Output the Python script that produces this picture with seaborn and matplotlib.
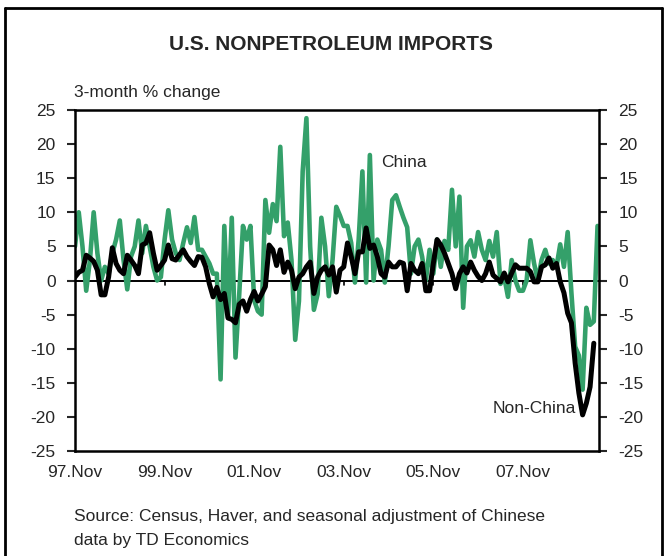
import numpy as np
import pandas as pd
import matplotlib
matplotlib.use("Agg")
import matplotlib.pyplot as plt
from matplotlib.lines import Line2D
import seaborn as sns

# months since 97.Nov
tick_months = [0, 24, 48, 72, 96, 120]
tick_labels = ["97.Nov", "99.Nov", "01.Nov", "03.Nov", "05.Nov", "07.Nov"]
y_ticks = [-25, -20, -15, -10, -5, 0, 5, 10, 15, 20, 25]

china = [
    5, 10, 5, -1.5, 3, 10, 4, 0, 2, 1,
    4, 6, 8.8, 3, -1.3, 3.5, 5, 8.8, 4, 8,
    5, 2, 0, 0.5, 6, 10.3, 6, 4, 3, 5.5,
    7.8, 5.5, 9.3, 4.5, 4.5, 3.5, 2.5, 1, 1, -14.5,
    8, -5.4, 9.2, -11.3, -2, 8, 6, 8, -2.9, -4.5,
    -5, 11.8, 7, 11.2, 8.7, 19.6, 6.5, 8.5, 3, -8.7,
    -3, 16, 23.8, 5, -4.3, -2, 9.2, 5, -2.3, 3,
    10.8, 9.5, 8, 8, 5.5, -0.3, 6, 16, -0.3, 18.4,
    0, 6, 4.5, -0.3, 5, 11.8, 12.5, 10.8, 9.2, 7.8,
    1, 5, 6, 3.5, 0, 4.5, 1, 6, 2, 5.8,
    4.5, 13.3, 5, 12.3, -4, 5, 5.9, 3.5, 7.1, 4.5,
    3, 5.8, 3.5, 7.1, -0.5, 0.5, -2.4, 3, 0, -1.5,
    -1.5, 0, 5.9, 2.5, 0, 3, 4.5, 2.5, 3, 2,
    5.3, 2, 7.1, -1.8, -9.7, -11, -16, -4, -6.5, -6,
    8,
]

non_china = [
    0.5, 1.2, 1.5, 3.7, 3.3, 2.8, 1.5, -2.1, -2.1, 0.5,
    4.8, 2.5, 1.5, 1, 3.7, 3, 2.2, 1, 5.2, 5.5,
    7, 4, 1.5, 2.2, 3, 5.2, 3.2, 3, 3.8, 4.5,
    3.5, 2.8, 2.2, 3.5, 3.4, 2, -0.5, -2.4, -1, -2.8,
    -1.9, -5.5, -5.7, -6.2, -3.5, -3, -4.5, -2.8, -1.6, -3,
    -2, -0.9, 5.2, 4.5, 2.2, 4.5, 1.2, 2.7, 1.5, -1.2,
    0.5, 1, 2, 2.7, -1.9, 0.5, 1.5, 2, 0.8, 2,
    -1.7, 1.5, 2, 5.5, 3.5, 1, 4.2, 4.2, 7.7, 4.7,
    5.2, 3.5, 1, 0.5, 2.7, 2, 2, 2.7, 2.5, -1.5,
    2.5, 1.5, 1, 2.5, -1.5, -1.5, 2.5, 6, 5.2, 4,
    2.5, 1, -1.2, 1, 2, 1.1, 2.7, 1.5, 0.6, 0,
    1, 2.7, 0.8, 0.3, -0.2, 1.1, -0.2, 1.1, 2.3, 1.8,
    1.8, 1.8, 1.3, -0.2, -0.2, 2, 2.3, 3.3, 1.8, 2.5,
    -0.2, -1.8, -4.8, -6.2, -12.1, -16.5, -19.7, -18, -15.6, -9.2,
]

df = pd.DataFrame({"month": np.arange(len(china)), "China": china})
df["Non-China"] = pd.Series(non_china)

sns.set_theme(style="white")
plt.rcParams["font.family"] = ["Liberation Sans", "DejaVu Sans"]

fig = plt.figure(figsize=(6.65, 5.56), dpi=100)
ax = fig.add_axes([0.1128, 0.1888, 0.788, 0.6134])

sns.lineplot(data=df, x="month", y="China", color="#34a06a", lw=3.3, ax=ax)
sns.lineplot(data=df.dropna(), x="month", y="Non-China", color="black", lw=3.6, ax=ax)

ax.axhline(0, color="black", lw=1.4, zorder=1)
# little ticks on the zero line
for m in tick_months[1:]:
    ax.plot([m, m], [0, -0.6], color="black", lw=1.2, zorder=1)

ax.set_xlim(0, 140.4)
ax.set_ylim(-25, 25)
ax.set_xticks(tick_months)
ax.set_xticklabels(tick_labels)
ax.set_yticks(y_ticks)
ax.set_yticklabels([str(v) for v in y_ticks])
ax.set_xlabel("")
ax.set_ylabel("")
ax.tick_params(axis="x", length=0, pad=10, labelsize=12.5)
ax.tick_params(axis="y", direction="out", length=6, width=1.5, pad=8,
               labelsize=12.5, left=True, right=True, labelright=True)
for sp in ax.spines.values():
    sp.set_visible(True)
    sp.set_color("black")
    sp.set_linewidth(1.8)

ax.text(82, 17.3, "China", fontsize=12.5, ha="left", va="center")
ax.text(134.3, -18.8, "Non-China", fontsize=12.5, ha="right", va="center")

fig.text(0.4975, 1 - 45 / 556, "U.S. NONPETROLEUM IMPORTS", ha="center", va="center",
         fontsize=15, fontweight="bold")
fig.text(74 / 665, 1 - 93 / 556, "3-month % change", ha="left", va="center", fontsize=12.5)
fig.text(74 / 665, 1 - 517 / 556, "Source: Census, Haver, and seasonal adjustment of Chinese",
         ha="left", va="center", fontsize=12.5)
fig.text(74 / 665, 1 - 541 / 556, "data by TD Economics", ha="left", va="center", fontsize=12.5)

# outer frame
fx0, fx1, fy1 = 5 / 665, 662 / 665, 1 - 8 / 556
for xs, ys in [([fx0, fx0], [0, fy1]), ([fx0, fx1], [fy1, fy1]), ([fx1, fx1], [0, fy1])]:
    fig.add_artist(Line2D(xs, ys, transform=fig.transFigure, color="black", lw=2))

fig.savefig("out.png", dpi=100, facecolor="white")
